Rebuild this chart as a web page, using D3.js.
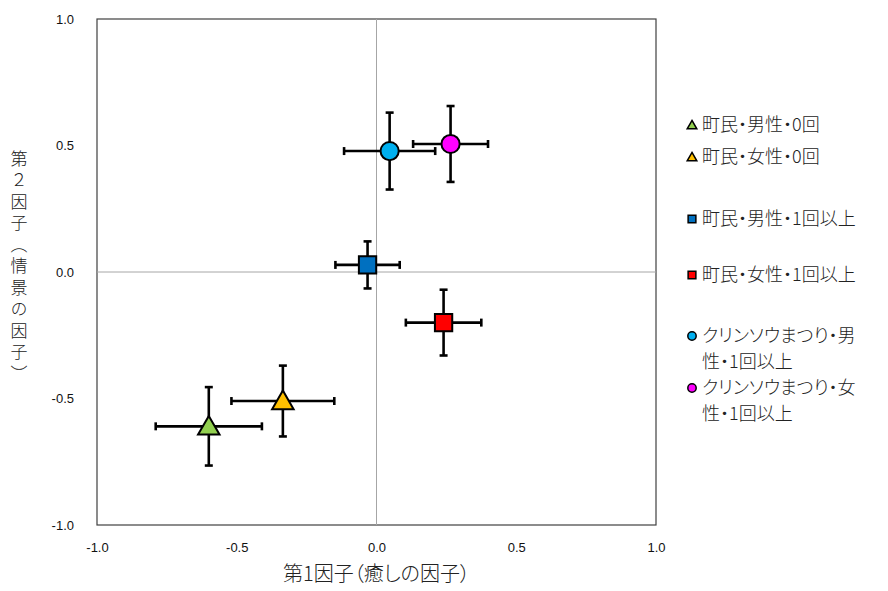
<!DOCTYPE html>
<html lang="ja">
<head>
<meta charset="UTF-8">
<title>因子得点</title>
<script src="https://d3js.org/d3.v7.min.js"></script>
<style>
  body { margin: 0; background: #fff; }
  svg { display: block; }
  .tick text { font-family: "Liberation Sans", sans-serif; font-size: 13px; fill: #111; }
  .jp { font-family: "Noto Sans CJK JP", sans-serif; fill: #222; font-weight: 300; font-feature-settings: "palt"; }
</style>
</head>
<body>
<svg id="chart" width="888" height="591"></svg>
<script>
  const groups = ["町民・男性・0回", "町民・女性・0回", "町民・男性・1回以上", "町民・女性・1回以上",
                  "クリンソウまつり・男性・1回以上", "クリンソウまつり・女性・1回以上"];
  const xVals = [-0.60, -0.335, -0.032, 0.24, 0.047, 0.265];
  const yVals = [-0.61, -0.51, 0.028, -0.20, 0.478, 0.506];
  const xErr = [0.19, 0.184, 0.115, 0.135, 0.163, 0.134];
  const yErr = [0.155, 0.14, 0.093, 0.13, 0.152, 0.15];
  const shapes = ["triangle", "triangle", "square", "square", "circle", "circle"];
  const colors = ["#92d050", "#ffc000", "#0070c0", "#ff0000", "#00b0f0", "#ff00ff"];
  const ticks = [-1.0, -0.5, 0.0, 0.5, 1.0];

  const svg = d3.select("#chart");
  const pLeft = 97, pRight = 656, pTop = 19, pBottom = 525;
  const x = d3.scaleLinear().domain([-1, 1]).range([pLeft, pRight]);
  const y = d3.scaleLinear().domain([-1, 1]).range([pBottom, pTop]);
  const fmt = d => d.toFixed(1);

  // frame
  svg.append("rect").attr("x", pLeft).attr("y", pTop)
    .attr("width", pRight - pLeft).attr("height", pBottom - pTop)
    .attr("fill", "none").attr("stroke", "#404040").attr("stroke-width", 1.2);

  // zero lines
  svg.append("line").attr("x1", x(0)).attr("x2", x(0)).attr("y1", pTop).attr("y2", pBottom)
    .attr("stroke", "#a6a6a6").attr("stroke-width", 1);
  svg.append("line").attr("x1", pLeft).attr("x2", pRight).attr("y1", y(0)).attr("y2", y(0))
    .attr("stroke", "#a6a6a6").attr("stroke-width", 1);

  // tick labels
  const xAxis = svg.append("g").attr("transform", `translate(0,${pBottom + 15})`)
    .call(d3.axisBottom(x).tickValues(ticks).tickFormat(fmt).tickSize(0));
  xAxis.select(".domain").remove();
  const yAxis = svg.append("g").attr("transform", `translate(${pLeft - 20},0)`)
    .call(d3.axisLeft(y).tickValues(ticks).tickFormat(fmt).tickSize(0));
  yAxis.select(".domain").remove();

  // axis titles
  svg.append("text").attr("class", "jp").attr("x", x(0)).attr("y", 581)
    .attr("text-anchor", "middle").attr("font-size", 20).text("第1因子（癒しの因子）");
  svg.append("text").attr("class", "jp").attr("x", 19).attr("y", 150)
    .attr("font-size", 17)
    .style("font-feature-settings", "normal")
    .style("writing-mode", "vertical-rl")
    .style("letter-spacing", "4.5px")
    .text("第２因子（情景の因子）");

  const idx = d3.range(groups.length);
  const cap = 4;

  // error bars
  const eb = svg.append("g").attr("stroke", "#000").attr("stroke-width", 2.6);
  idx.forEach(i => {
    const cx = x(xVals[i]), cy = y(yVals[i]);
    const x0 = x(xVals[i] - xErr[i]), x1 = x(xVals[i] + xErr[i]);
    const y0 = y(yVals[i] - yErr[i]), y1 = y(yVals[i] + yErr[i]);
    eb.append("line").attr("x1", x0).attr("x2", x1).attr("y1", cy).attr("y2", cy);
    eb.append("line").attr("x1", cx).attr("x2", cx).attr("y1", y0).attr("y2", y1);
    [x0, x1].forEach(v => eb.append("line").attr("x1", v).attr("x2", v).attr("y1", cy - cap).attr("y2", cy + cap));
    [y0, y1].forEach(v => eb.append("line").attr("x1", cx - cap).attr("x2", cx + cap).attr("y1", v).attr("y2", v));
  });

  const symType = { triangle: d3.symbolTriangle, square: d3.symbolSquare, circle: d3.symbolCircle };
  const symSize = { triangle: 200, square: 300, circle: 260 };

  svg.append("g").selectAll("path").data(idx).join("path")
    .attr("transform", i => `translate(${x(xVals[i])},${y(yVals[i]) + (shapes[i] === "triangle" ? 2 : 0)})`)
    .attr("d", i => d3.symbol(symType[shapes[i]], symSize[shapes[i]])())
    .attr("fill", i => colors[i]).attr("stroke", "#000").attr("stroke-width", 2);

  // legend (long entries wrap onto a second line, as in the original)
  const legY = [125, 157, 219, 275, 336, 388];
  const legLines = [["町民・男性・0回"], ["町民・女性・0回"], ["町民・男性・1回以上"], ["町民・女性・1回以上"],
                    ["クリンソウまつり・男", "性・1回以上"], ["クリンソウまつり・女", "性・1回以上"]];
  const legSize = { triangle: 40, square: 60, circle: 55 };
  const leg = svg.append("g");
  idx.forEach(i => {
    leg.append("path")
      .attr("transform", `translate(692,${legY[i] + (shapes[i] === "triangle" ? 1 : 0)})`)
      .attr("d", d3.symbol(symType[shapes[i]], legSize[shapes[i]])())
      .attr("fill", colors[i]).attr("stroke", "#000").attr("stroke-width", 1.5);
    legLines[i].forEach((s, k) => {
      leg.append("text").attr("class", "jp")
        .attr("x", 702).attr("y", legY[i] + k * 26).attr("dy", "0.36em")
        .attr("font-size", 18).text(s);
    });
  });
</script>
</body>
</html>
